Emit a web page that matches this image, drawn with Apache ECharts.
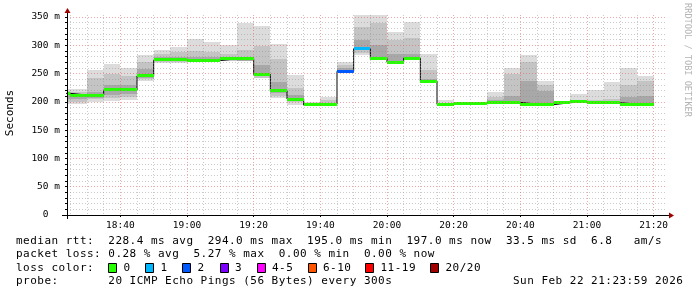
<!DOCTYPE html>
<html><head><meta charset="utf-8">
<script src="https://cdn.jsdelivr.net/npm/echarts@6/dist/echarts.min.js"></script>
<style>html,body{margin:0;padding:0;background:#fff}#c{width:697px;height:297px}</style>
</head><body><div id="c"></div>
<script>
// ---- data (each column covers 5 minutes starting at colStart) ----
const colStart = ['18:20','18:25','18:30','18:35','18:40','18:45','18:50','18:55','19:00','19:05','19:10','19:15',
  '19:20','19:25','19:30','19:35','19:40','19:45','19:50','19:55','20:00','20:05','20:10','20:15',
  '20:20','20:25','20:30','20:35','20:40','20:45','20:50','20:55','21:00','21:05','21:10','21:15'];
const median = [215,212,212,221,221,246,274,275,273,273,276,276,248.5,219.5,205,194.5,196,254,294,276.5,270,277,236.5,
  195.5,196.5,197.5,198.5,199,196,195,198.5,200,198.5,198.5,196,196];
const lossIdx = [0,0,0,0,0,0,0,0,0,0,0,0,0,0,0,0,0,2,1,0,0,0,0,0,0,0,0,0,0,0,0,0,0,0,0,0];
const smokeMin = [197,196,200,202,203,237.5,269,269,271,270,272,272,243,206,194,193.5,195,252,283,274,268,275,235,
  194,195.5,196.5,197,197.5,194.5,193.5,197,198.5,197,197,194.5,194.5];
const smokeMax = [222,223,256,267,259,282.5,291.7,297,311,306,300.5,340,334,302,247.5,199,209,271,360,356,323,340.5,284.5,
  203.3,199,199.5,217,259,283,237,200,214,221,235.7,260,245.7];
const midLo = [200,200,205,207,208,241,271,271,272,271,273,273,243,210,200,null,197,254,286,277,270,276,236,
  null,null,null,198,198,198,196,null,199,198,198,196,195];
const midHi = [220,218,242,250,245,270,285,288,290,288,285,292,298,275,224,null,204,266,333,339,310,312,256,
  null,null,null,208,249,271,229,null,202,203,204.5,229,237.5];
const darkLo = [205,205,207,212,214,243,272,273,273,272,274,273,245,215,203,null,null,255,291,277,270,276,236,
  null,null,null,199,199,198,196,null,null,null,null,196,195];
const darkHi = [215,214,218,230,230,258,280,280,280,279,280,280,265,235,212,null,null,260,310,300,285,285,240,
  null,null,null,203,210,236,220,null,null,null,null,208,210];
const tickLabels = ['18:40','19:00','19:20','19:40','20:00','20:20','20:40','21:00','21:20'];
const yTickValues = [0,50,100,150,200,250,300,350];
const lossColors = ['#26ff00','#00b8ff','#0059ff','#7e00ff','#ff00ff','#ff5500','#ff0000','#a00000'];
const lossLabels = ['0','1','2','3','4-5','6-10','11-19','20/20'];
const legendLine1 = 'median rtt:  228.4 ms avg  294.0 ms max  195.0 ms min  197.0 ms now  33.5 ms sd  6.8   am/s';
const legendLine2 = 'packet loss: 0.28 % avg  5.27 % max  0.00 % min  0.00 % now';
const probeText = 'probe:       20 ICMP Echo Pings (56 Bytes) every 300s';
const dateText = 'Sun Feb 22 21:23:59 2026';

// ---- helpers ----
const toMin = s => { const p = s.split(':'); return (+p[0]) * 60 + (+p[1]); };
const STEP = 5;
const xMin = toMin('18:24'), xMax = toMin('21:24');
const majorX = tickLabels.map(toMin);
const minorX = [];
for (let m = toMin('18:25'); m < xMax; m += 5) if (majorX.indexOf(m) < 0) minorX.push(m);
const minorY = [];
for (let v = 10; v < 353; v += 10) if (v % 50 !== 0) minorY.push(v);
const fmtTime = v => { const h = Math.floor(v / 60), m = v % 60; return String(h).padStart(2,'0') + ':' + String(m).padStart(2,'0'); };

function bands(lo, hi) {
  const out = [];
  colStart.forEach((s, i) => {
    if (lo[i] == null || hi[i] == null) return;
    out.push([toMin(s), toMin(s) + STEP, lo[i], hi[i]]);
  });
  return out;
}
function clipTo(params, r) {
  const cs = params.coordSys;
  return echarts.graphic.clipRectByRect(r, {x: cs.x, y: cs.y, width: cs.width, height: cs.height});
}
function bandItem(params, api) {
  const p0 = api.coord([api.value(0), api.value(3)]);
  const p1 = api.coord([api.value(1), api.value(2)]);
  const x0 = Math.round(p0[0]), x1 = Math.round(p1[0]);
  const y0 = Math.round(p0[1]), y1 = Math.round(p1[1]);
  const r = clipTo(params, {x: x0, y: y0, width: x1 - x0, height: Math.max(1, y1 - y0)});
  return r && {type: 'rect', shape: r, style: {fill: api.visual('color')}};
}
function medItem(params, api) {
  const p0 = api.coord([api.value(0), api.value(2)]);
  const p1 = api.coord([api.value(1), api.value(2)]);
  const x0 = Math.round(p0[0]), x1 = Math.round(p1[0]);
  const r = clipTo(params, {x: x0, y: Math.round(p0[1] - 1.5), width: x1 - x0, height: 3});
  return r && {type: 'rect', shape: r, style: {fill: lossColors[api.value(3)]}};
}

const medData = colStart.map((s, i) => [toMin(s), toMin(s) + STEP, median[i], lossIdx[i]]);
const stepData = colStart.map((s, i) => [toMin(s), median[i]]);
stepData.push([toMin(colStart[colStart.length - 1]) + STEP, median[median.length - 1]]);

const MONO = 'DejaVu Sans Mono';
const minorGrid = {color: 'rgba(140,140,140,0.45)', width: 1, type: [1, 2]};
const majorGrid = {color: 'rgba(225,80,80,0.5)', width: 1, type: [1, 2]};

// ---- graphic texts ----
const graphics = [];
const ADV = 7.1, LX = 16;
function charLine(str, y, x0) {
  for (let i = 0; i < str.length; i++) {
    if (str[i] === ' ') continue;
    graphics.push({type: 'text', x: x0 + i * ADV, y: y,
      style: {text: str[i], font: '11px "' + MONO + '"', fill: '#000', verticalAlign: 'middle', align: 'left'}});
  }
}
charLine(legendLine1, 241, LX);
charLine(legendLine2, 254.5, LX);
charLine('loss color:', 268, LX);
charLine(probeText, 281.5, LX);
charLine(dateText, 281.5, 513);
const sqX = [108, 145, 182, 219.5, 256.5, 307.5, 365, 430];
lossColors.forEach((c, i) => {
  graphics.push({type: 'rect', shape: {x: Math.round(sqX[i]) + 0.5, y: 263.5, width: 8, height: 9},
    style: {fill: c, stroke: '#000', lineWidth: 1}});
  charLine(lossLabels[i], 268, sqX[i] + 15.5);
});
graphics.push({type: 'text', x: 10, y: 113, rotation: Math.PI / 2,
  style: {text: 'Seconds', font: '11px "' + MONO + '"', fill: '#000', align: 'center', verticalAlign: 'middle'}});
graphics.push({type: 'text', x: 687, y: 60, rotation: -Math.PI / 2,
  style: {text: 'RRDTOOL / TOBI OETIKER', font: '8.6px "' + MONO + '"', fill: '#b4b4b4', align: 'center', verticalAlign: 'middle'}});
// axis extensions and arrows
graphics.push({type: 'line', shape: {x1: 67.5, y1: 15, x2: 67.5, y2: 11}, style: {stroke: '#000', lineWidth: 1}});
graphics.push({type: 'line', shape: {x1: 67.5, y1: 215, x2: 67.5, y2: 219}, style: {stroke: '#000', lineWidth: 1}});
graphics.push({type: 'polygon', shape: {points: [[64.5, 13], [70.5, 13], [67.5, 8]]}, style: {fill: '#a00000'}});
graphics.push({type: 'line', shape: {x1: 62, y1: 215.5, x2: 67, y2: 215.5}, style: {stroke: '#000', lineWidth: 1}});
graphics.push({type: 'line', shape: {x1: 667, y1: 215.5, x2: 670, y2: 215.5}, style: {stroke: '#000', lineWidth: 1}});
graphics.push({type: 'polygon', shape: {points: [[669, 212.5], [669, 218.5], [674, 215.5]]}, style: {fill: '#a00000'}});

const chart = echarts.init(document.getElementById('c'), null, {renderer: 'canvas'});
chart.setOption({
  animation: false,
  backgroundColor: '#ffffff',
  grid: {left: 67, top: 15, width: 600, height: 200, containLabel: false},
  xAxis: [
    {type: 'value', min: xMin, max: xMax, position: 'bottom', z: 5,
      axisLine: {show: true, lineStyle: {color: '#000', width: 1}},
      axisTick: {show: true, customValues: majorX, length: 2, lineStyle: {color: '#000'}},
      axisLabel: {customValues: majorX, formatter: v => tickLabels[majorX.indexOf(v)] || fmtTime(v),
        fontFamily: MONO, fontSize: 9.5, color: '#000', margin: 6},
      splitLine: {show: true, lineStyle: majorGrid}},
    {type: 'value', min: xMin, max: xMax, position: 'bottom', z: 4,
      axisLine: {show: false}, axisLabel: {show: false},
      axisTick: {show: false, customValues: minorX},
      splitLine: {show: true, lineStyle: minorGrid}}
  ],
  yAxis: [
    {type: 'value', min: 0, max: 353.5, position: 'left', z: 5,
      axisLine: {show: true, lineStyle: {color: '#000', width: 1}},
      axisTick: {show: true, customValues: yTickValues, length: 2, lineStyle: {color: '#000'}},
      axisLabel: {customValues: yTickValues, formatter: v => v === 0 ? '0  ' : v + ' m',
        fontFamily: MONO, fontSize: 9.5, color: '#000', margin: 7},
      splitLine: {show: true, lineStyle: majorGrid}},
    {type: 'value', min: 0, max: 353.5, position: 'left', z: 4,
      axisLine: {show: false}, axisLabel: {show: false},
      axisTick: {show: true, customValues: minorY, length: 2, lineStyle: {color: '#000'}},
      splitLine: {show: true, lineStyle: minorGrid}}
  ],
  series: [
    {type: 'custom', z: 1, renderItem: bandItem, itemStyle: {color: '#dcdcdc'}, data: bands(smokeMin, smokeMax), encode: {x: [0, 1], y: [2, 3]}},
    {type: 'custom', z: 1, renderItem: bandItem, itemStyle: {color: '#c4c4c4'}, data: bands(midLo, midHi), encode: {x: [0, 1], y: [2, 3]}},
    {type: 'custom', z: 1, renderItem: bandItem, itemStyle: {color: '#a8a8a8'}, data: bands(darkLo, darkHi), encode: {x: [0, 1], y: [2, 3]}},
    {type: 'line', z: 1, step: 'end', data: stepData, symbol: 'none', lineStyle: {color: '#000', width: 1}, clip: true},
    {type: 'custom', z: 2, renderItem: medItem, data: medData, encode: {x: [0, 1], y: 2}}
  ],
  graphic: graphics
});
</script></body></html>
